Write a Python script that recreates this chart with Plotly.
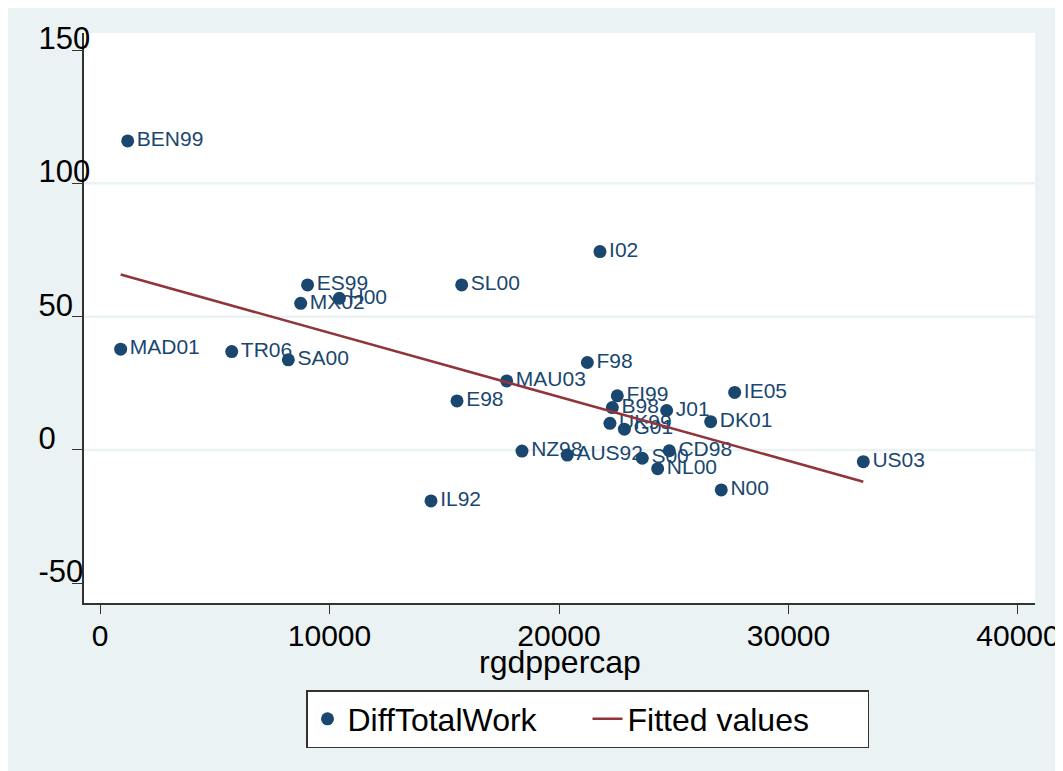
import plotly.graph_objects as go

# Data
labels = ["BEN99", "I02", "ES99", "H00", "MX02", "SL00", "MAD01", "TR06", "SA00",
          "F98", "MAU03", "E98", "FI99", "B98", "J01", "IE05", "DK01", "UK99",
          "G01", "CD98", "S00", "NL00", "N00", "AUS92", "NZ98", "IL92", "US03"]
rgdppercap = [1207, 21786, 9045, 10430, 8745, 15760, 900, 5740, 8206,
              21235, 17720, 15556, 22540, 22325, 24690, 27655, 26610, 22220,
              22850, 24805, 23630, 24300, 27070, 20360, 18388, 14423, 33260]
diff_total_work = [115.9, 74.4, 61.9, 56.9, 55.0, 61.9, 37.8, 36.9, 33.8,
                   32.8, 25.9, 18.4, 20.3, 15.9, 14.8, 21.6, 10.6, 10.0,
                   7.8, -0.3, -3.1, -7.0, -15.0, -1.9, -0.4, -19.1, -4.4]

fit_x = [900, 33260]
fit_y = [65.8, -11.9]

x_ticks = [0, 10000, 20000, 30000, 40000]
x_ticktext = ["0", "10000", "20000", "30000", "40000"]
y_ticks = [-50, 0, 50, 100, 150]
y_ticktext = ["-50", "0", "50", "100", "150"]
grid_vals = [0, 50, 100]

NAVY = "#1A476F"
MAROON = "#90353B"
BG = "#EAF2F3"
FONT = "Liberation Sans, Arial, sans-serif"

fig = go.Figure()
fig.add_trace(go.Scatter(
    x=rgdppercap, y=diff_total_work, mode="markers+text", text=labels,
    textposition="middle right", name="DiffTotalWork",
    marker=dict(color=NAVY, size=13),
    textfont=dict(family=FONT, size=21, color=NAVY),
))
fig.add_trace(go.Scatter(
    x=fit_x, y=fit_y, mode="lines", name="Fitted values",
    line=dict(color=MAROON, width=2.6),
))

for g in grid_vals:
    fig.add_shape(type="line", xref="paper", x0=0, x1=1, yref="y", y0=g, y1=g,
                  line=dict(color=BG, width=2.5), layer="below")

# x-axis title
fig.add_annotation(text="rgdppercap", xref="paper", yref="paper",
                   x=0.5, y=(603-662)/570, xanchor="center", yanchor="middle",
                   showarrow=False, font=dict(family=FONT, size=32, color="black"))

fig.update_layout(
    width=1063, height=771, autosize=False,
    margin=dict(l=76, r=36, t=25, b=176),
    paper_bgcolor=BG, plot_bgcolor="white",
    font=dict(family=FONT, color="black"),
    showlegend=True,
    legend=dict(orientation="h", x=(306-84)/951, xanchor="left",
                y=(603-690)/570, yanchor="top",
                bgcolor="white", bordercolor="#333", borderwidth=1.5,
                font=dict(family=FONT, size=32, color="black"),
                entrywidth=235),
    xaxis=dict(range=[-697, 40741], tickvals=x_ticks, ticktext=x_ticktext,
               ticks="outside", ticklen=9, automargin=False,
               tickcolor="#333", showline=True, linecolor="#333", linewidth=1.5,
               showgrid=False, zeroline=False, ticklabelstandoff=-4,
               tickfont=dict(family=FONT, size=30, color="black")),
    yaxis=dict(range=[-57.4, 156.4], tickvals=y_ticks, ticktext=y_ticktext,
               ticks="outside", ticklen=10, automargin=False,
               tickcolor="#333", showline=True, linecolor="#333", linewidth=1.5,
               showgrid=False, zeroline=False,
               ticklabelposition="inside", ticklabelstandoff=-42, ticklabelshift=-12,
               ticklabeloverflow="allow",
               tickfont=dict(family=FONT, size=31, color="black")),
)

fig.write_html("out.html")
